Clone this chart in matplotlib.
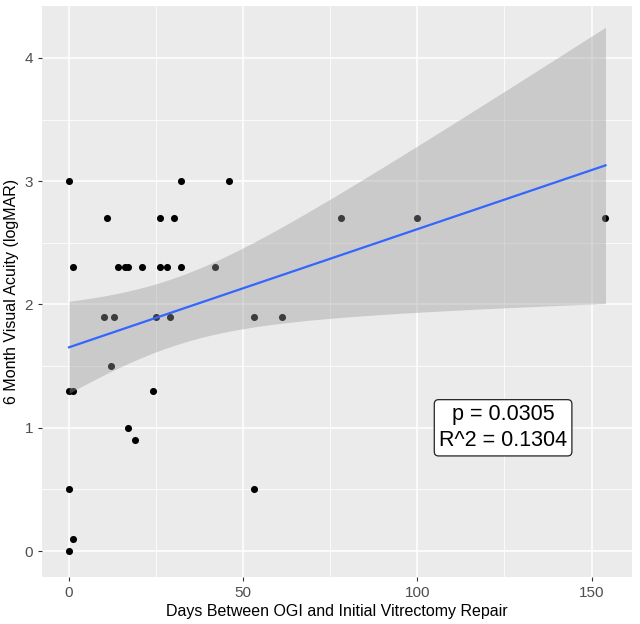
import numpy as np
import matplotlib
matplotlib.use('Agg')
from matplotlib import pyplot as plt

# days between open globe injury and vitrectomy, 6 month logMAR
days = [0, 32, 46, 11, 26, 30, 78, 100, 154,
        1, 14, 16, 17, 21, 26, 28, 32, 42,
        10, 13, 25, 29, 53, 61,
        12, 0, 1, 24, 17, 19, 0, 53, 1, 0]
logmar = [3.0, 3.0, 3.0, 2.7, 2.7, 2.7, 2.7, 2.7, 2.7,
          2.3, 2.3, 2.3, 2.3, 2.3, 2.3, 2.3, 2.3, 2.3,
          1.9, 1.9, 1.9, 1.9, 1.9, 1.9,
          1.5, 1.3, 1.3, 1.3, 1.0, 0.9, 0.5, 0.5, 0.1, 0.0]
x_ticks = [0, 50, 100, 150]
y_ticks = [0, 1, 2, 3, 4]
stats_label = 'p = 0.0305\nR^2 = 0.1304'

plt.rcParams['font.family'] = ['Liberation Sans', 'DejaVu Sans']


def linear_fit_band(x, y, t_crit=2.037):
    # same as geom_smooth(method='lm'), 95% band
    x = np.asarray(x, dtype=float)
    y = np.asarray(y, dtype=float)
    n = len(x)
    slope, intercept = np.polyfit(x, y, 1)
    resid = y - (slope * x + intercept)
    s = np.sqrt(np.sum(resid ** 2) / (n - 2))
    xs = np.linspace(x.min(), x.max(), 80)
    fit = slope * xs + intercept
    se = s * np.sqrt(1 / n + (xs - x.mean()) ** 2 / np.sum((x - x.mean()) ** 2))
    return xs, fit, fit - t_crit * se, fit + t_crit * se


fig = plt.figure(figsize=(6.4, 6.24), dpi=100)
ax = fig.add_axes([0.066, 0.0753, 0.922, 0.915])
ax.set_facecolor('#EBEBEB')
for side in ax.spines.values():
    side.set_visible(False)

ax.scatter(days, logmar, s=26, color='black', zorder=3, linewidths=0)
xs, fit, lower, upper = linear_fit_band(days, logmar)
ax.fill_between(xs, lower, upper, color='#999999', alpha=0.4, linewidth=0, zorder=4)
ax.plot(xs, fit, color='#3366FF', lw=1.6, zorder=5)

ax.set_xlim(-7.7, 161.7)
ax.set_ylim(-0.21, 4.42)
ax.set_xticks(x_ticks)
ax.set_yticks(y_ticks)
ax.set_xticks([25, 75, 125], minor=True)
ax.set_yticks([0.5, 1.5, 2.5, 3.5], minor=True)
ax.grid(which='major', color='white', lw=1.1)
ax.grid(which='minor', color='white', lw=0.55)
ax.set_axisbelow(True)
ax.tick_params(which='major', length=3, width=0.8, color='#333333', labelcolor='#4D4D4D', labelsize=11)
ax.tick_params(which='minor', length=0)

ax.set_xlabel('Days Between OGI and Initial Vitrectomy Repair', fontsize=11.5, labelpad=3)
ax.set_ylabel('6 Month Visual Acuity (logMAR)', fontsize=11.5, labelpad=4)

ax.text(124.6, 1.0, stats_label, ha='center', va='center', fontsize=15.5, linespacing=1.3, zorder=6,
        bbox=dict(boxstyle='round,pad=0.22,rounding_size=0.2', fc='white', ec='#222222', lw=0.9))

fig.savefig('out.png', dpi=100)
